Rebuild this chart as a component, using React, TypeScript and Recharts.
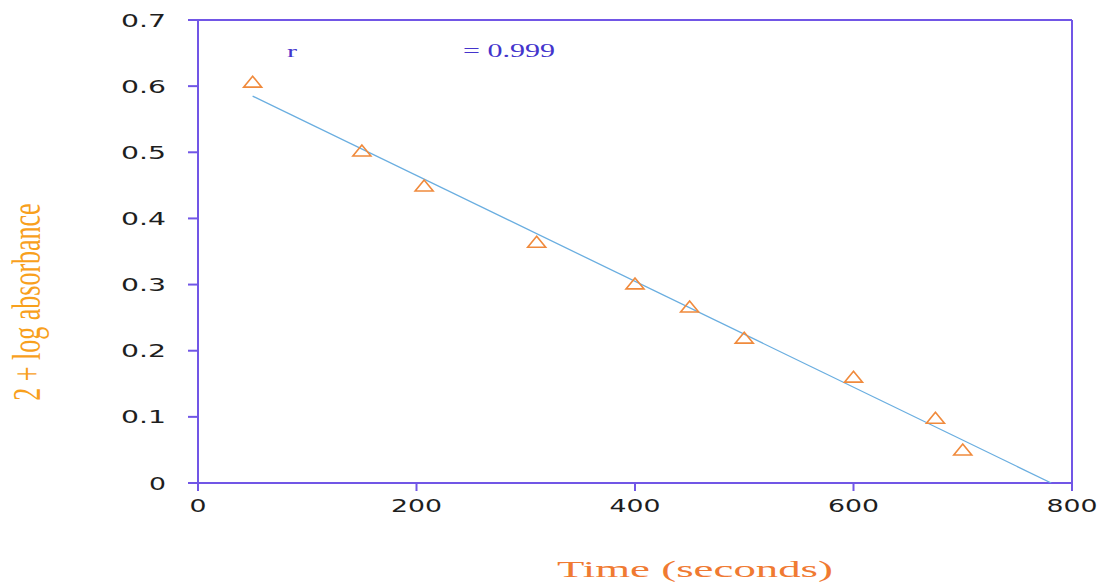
import { ComposedChart, Scatter, XAxis, YAxis, ReferenceLine } from "recharts"

const times = [50, 150, 207, 310, 400, 450, 500, 600, 675, 700]
const absorbance = [0.606, 0.502, 0.449, 0.364, 0.301, 0.266, 0.219, 0.16, 0.098, 0.05]
const fitTimes = [50, 781]
const fitValues = [0.585, 0]
const xTicks = [0, 200, 400, 600, 800]
const yTicks = [0, 0.1, 0.2, 0.3, 0.4, 0.5, 0.6, 0.7]

const points = times.map((t, i) => ({ x: t, y: absorbance[i] }))
const fitLine = fitTimes.map((t, i) => ({ x: t, y: fitValues[i] }))

const frame = "#7156e6"
const orange = "#f08a3c"

function labelWidth(s: string) {
  let w = 0
  for (const ch of s) w += ch === "." ? 11 : 17
  return w
}

function StretchedTick(props: any) {
  const { x, y, payload, textAnchor } = props
  const s = String(payload.value)
  return (
    <text
      x={x}
      y={y}
      textAnchor={textAnchor}
      dominantBaseline="central"
      fontFamily="DejaVu Sans"
      fontSize={18}
      fill="#1e1e1e"
      textLength={labelWidth(s)}
      lengthAdjust="spacingAndGlyphs"
    >
      {s}
    </text>
  )
}

function Triangle(props: any) {
  const { cx, cy } = props
  if (cx == null || cy == null) return null
  return (
    <polygon
      points={`${cx},${cy - 6} ${cx - 9},${cy + 5} ${cx + 9},${cy + 5}`}
      fill="none"
      stroke={orange}
      strokeWidth={1.6}
    />
  )
}

export default function App() {
  return (
    <div style={{ position: "absolute", left: 0, top: 0, width: 1102, height: 583, background: "#fff" }}>
      <ComposedChart width={1102} height={583} margin={{ top: 20, right: 30, left: 0, bottom: 0 }}>
        <XAxis
          type="number"
          dataKey="x"
          domain={[0, 800]}
          ticks={xTicks}
          height={100}
          stroke={frame}
          strokeWidth={2}
          tickSize={8}
          tickMargin={14}
          tick={<StretchedTick />}
          allowDataOverflow
        />
        <YAxis
          type="number"
          dataKey="y"
          domain={[0, 0.7]}
          ticks={yTicks}
          width={198}
          stroke={frame}
          strokeWidth={2}
          tickSize={10}
          tickMargin={22}
          tick={<StretchedTick />}
          allowDataOverflow
        />
        <ReferenceLine y={0.7} stroke={frame} strokeWidth={2} />
        <ReferenceLine x={800} stroke={frame} strokeWidth={2} />
        <Scatter data={fitLine} line={{ stroke: "#6aaee0", strokeWidth: 1.3 }} shape={() => null} isAnimationActive={false} />
        <Scatter data={points} shape={<Triangle />} isAnimationActive={false} />
      </ComposedChart>
      <svg width={1102} height={583} style={{ position: "absolute", left: 0, top: 0, pointerEvents: "none" }}>
        <text x={287} y={57} fontFamily="Liberation Serif" fontSize={17} fill="#4434cc" textLength={10} lengthAdjust="spacingAndGlyphs">
          r
        </text>
        <text x={463} y={57} fontFamily="Liberation Serif" fontSize={18} fill="#4434cc" textLength={92} lengthAdjust="spacingAndGlyphs">
          = 0.999
        </text>
        <text x={557} y={577} fontFamily="Liberation Serif" fontSize={24} fill="#f07a32" textLength={276} lengthAdjust="spacingAndGlyphs">
          Time (seconds)
        </text>
        <g transform="translate(40,302) scale(1.55,1) rotate(-90)">
          <text x={0} y={0} textAnchor="middle" fontFamily="Liberation Serif" fontSize={26} fill="#f8a01c">
            2 + log absorbance
          </text>
        </g>
      </svg>
    </div>
  )
}
